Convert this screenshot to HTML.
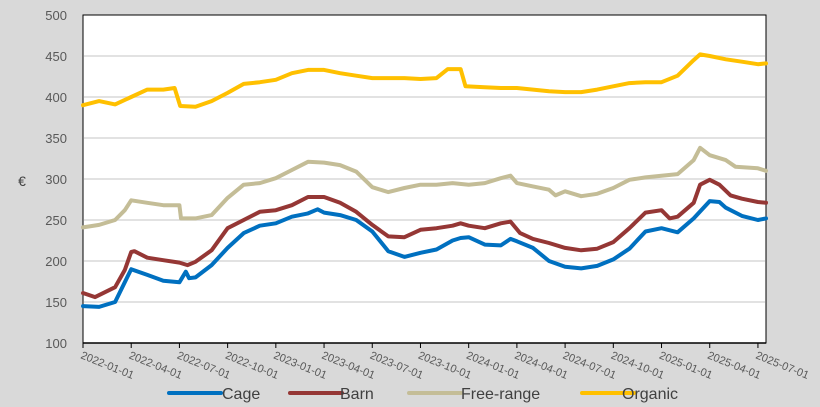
<!DOCTYPE html>
<html><head><meta charset="utf-8"><style>
body{margin:0;background:#d9d9d9;}
svg{display:block;font-family:"Liberation Sans",sans-serif;}
</style></head><body>
<svg id="chart" width="820" height="407" viewBox="0 0 820 407" xmlns="http://www.w3.org/2000/svg">
<rect width="820" height="407" fill="#d9d9d9"/>
<rect x="83" y="15" width="683" height="328" fill="#fff" stroke="#000" stroke-width="1"/>
<g id="grid"></g><g id="yticks"></g><g id="xticks"></g><g id="series"></g>
<text x="22" y="186" font-size="14" fill="#404040" text-anchor="middle">€</text>
<g id="legend"></g>
</svg>
<script>
const yTicks=[100,150,200,250,300,350,400,450,500];
const xLabels=["2022-01-01","2022-04-01","2022-07-01","2022-10-01","2023-01-01","2023-04-01","2023-07-01","2023-10-01","2024-01-01","2024-04-01","2024-07-01","2024-10-01","2025-01-01","2025-04-01","2025-07-01"];
const seriesNames=["Cage","Barn","Free-range","Organic"];
const cageMonths=[0,1,2,3,4,5,6,6.4,6.6,7,8,9,10,11,12,13,14,14.6,15,16,17,18,19,20,21,22,23,23.5,24,25,26,26.6,27,28,29,30,31,32,33,34,35,36,37,38,39,39.6,40,41,42,42.5];
const cageValues=[145,144,150,190,183,176,174,187,179,180,195,216,234,243,246,254,258,263,259,256,250,236,212,205,210,214,225,228,229,220,219,227,224,216,200,193,191,194,202,215,236,240,235,252,273,272,265,255,250,252];
const barnMonths=[0,0.75,2,2.6,3,3.2,4,5,6,6.5,7,8,9,10,11,12,13,14,15,16,17,18,19,20,21,22,23,23.5,24,25,26,26.6,27.2,28,29,30,31,32,33,34,35,36,36.5,37,38,38.4,39,39.6,40.3,41,42,42.5];
const barnValues=[161,156,168,189,211,212,204,201,198,195,199,213,240,250,260,262,268,278,278,271,260,244,230,229,238,240,243,246,243,240,246,248,234,227,222,216,213,215,223,240,259,262,252,254,271,293,299,293,280,276,272,271];
const freeMonths=[0,1,2,2.6,3,4,5,6,6.1,7,8,9,10,11,12,13,14,15,16,17,18,19,20,21,22,23,24,25,26,26.6,27,28,29,29.4,30,31,32,33,34,35,36,37,38,38.4,39,40,40.6,42,42.5];
const freeValues=[241,244,250,262,274,271,268,268,252,252,256,277,293,295,301,311,321,320,317,309,290,284,289,293,293,295,293,295,301,304,295,291,287,280,285,279,282,289,299,302,304,306,323,338,329,323,315,313,310];
const orgMonths=[0,1,2,3,4,5,5.7,6.05,7,8,9,10,11,12,13,14,15,16,17,18,19,20,21,22,22.7,23.5,23.8,25,26,27,28,29,30,31,32,33,34,35,36,37,38,38.4,39,40,41,42,42.5];
const orgValues=[390,395,391,400,409,409,411,389,388,395,405,416,418,421,429,433,433,429,426,423,423,423,422,423,434,434,413,412,411,411,409,407,406,406,409,413,417,418,418,426,445,452,450,446,443,440,441];
const colors=["#0070c0","#953735","#c4bd97","#ffc000"];
const allMonths=[cageMonths,barnMonths,freeMonths,orgMonths];
const allValues=[cageValues,barnValues,freeValues,orgValues];
const NS="http://www.w3.org/2000/svg";
const X0=83,MW=16.07,Y0=15,YS=0.82;
function xScale(m){return X0+m*MW;}
function yScale(v){return Y0+(500-v)*YS;}
function mk(t,a,p){const e=document.createElementNS(NS,t);for(const k in a)e.setAttribute(k,a[k]);p.appendChild(e);return e;}
const grid=document.getElementById('grid'),yt=document.getElementById('yticks'),xt=document.getElementById('xticks'),ser=document.getElementById('series'),leg=document.getElementById('legend');
yTicks.forEach(v=>{
 if(v>100&&v<500){const g=mk('line',{x1:84,x2:765,y1:yScale(v),y2:yScale(v),stroke:'#d9d9d9','stroke-width':1.5},grid);
 
 }
 const t=mk('text',{x:67,y:yScale(v)+5,'font-size':13,fill:'#595959','text-anchor':'end'},yt);
 t.textContent=v;
 
 
});
mk('line',{x1:83,x2:766,y1:343,y2:343,stroke:'#000','stroke-width':1.5},xt);
xLabels.forEach((l,i)=>{
 const x=xScale(i*3);
 const tk=mk('line',{x1:x,x2:x,y1:343,y2:348,stroke:'#000'},xt);
 
 
 const t=mk('text',{x:0,y:0,'font-size':11,fill:'#595959',transform:`translate(${x-3},358) rotate(22)`},xt);
 t.textContent=l;
 
 
});
allMonths.forEach((ms,s)=>{
 const d=ms.map((m,i)=>(i?'L':'M')+xScale(m).toFixed(1)+','+yScale(allValues[s][i]).toFixed(1)).join(' ');
 const p=mk('path',{d:d,fill:'none',stroke:colors[s],'stroke-width':4,'stroke-linejoin':'round','stroke-linecap':'round'},ser);
 
 
});
const legX=[169,290,409,582];
seriesNames.forEach((n,i)=>{
 const g=mk('g',{},leg);
 
 
 mk('line',{x1:legX[i],x2:legX[i]+52-(i==1?-0:0),y1:393,y2:393,stroke:colors[i],'stroke-width':4,'stroke-linecap':'round'},g);
 const t=mk('text',{x:legX[i]+(i==0?53:i==1?50:i==2?52:40),y:399,'font-size':16,fill:'#404040'},g);
 t.textContent=n;
});
</script>
</body></html>
